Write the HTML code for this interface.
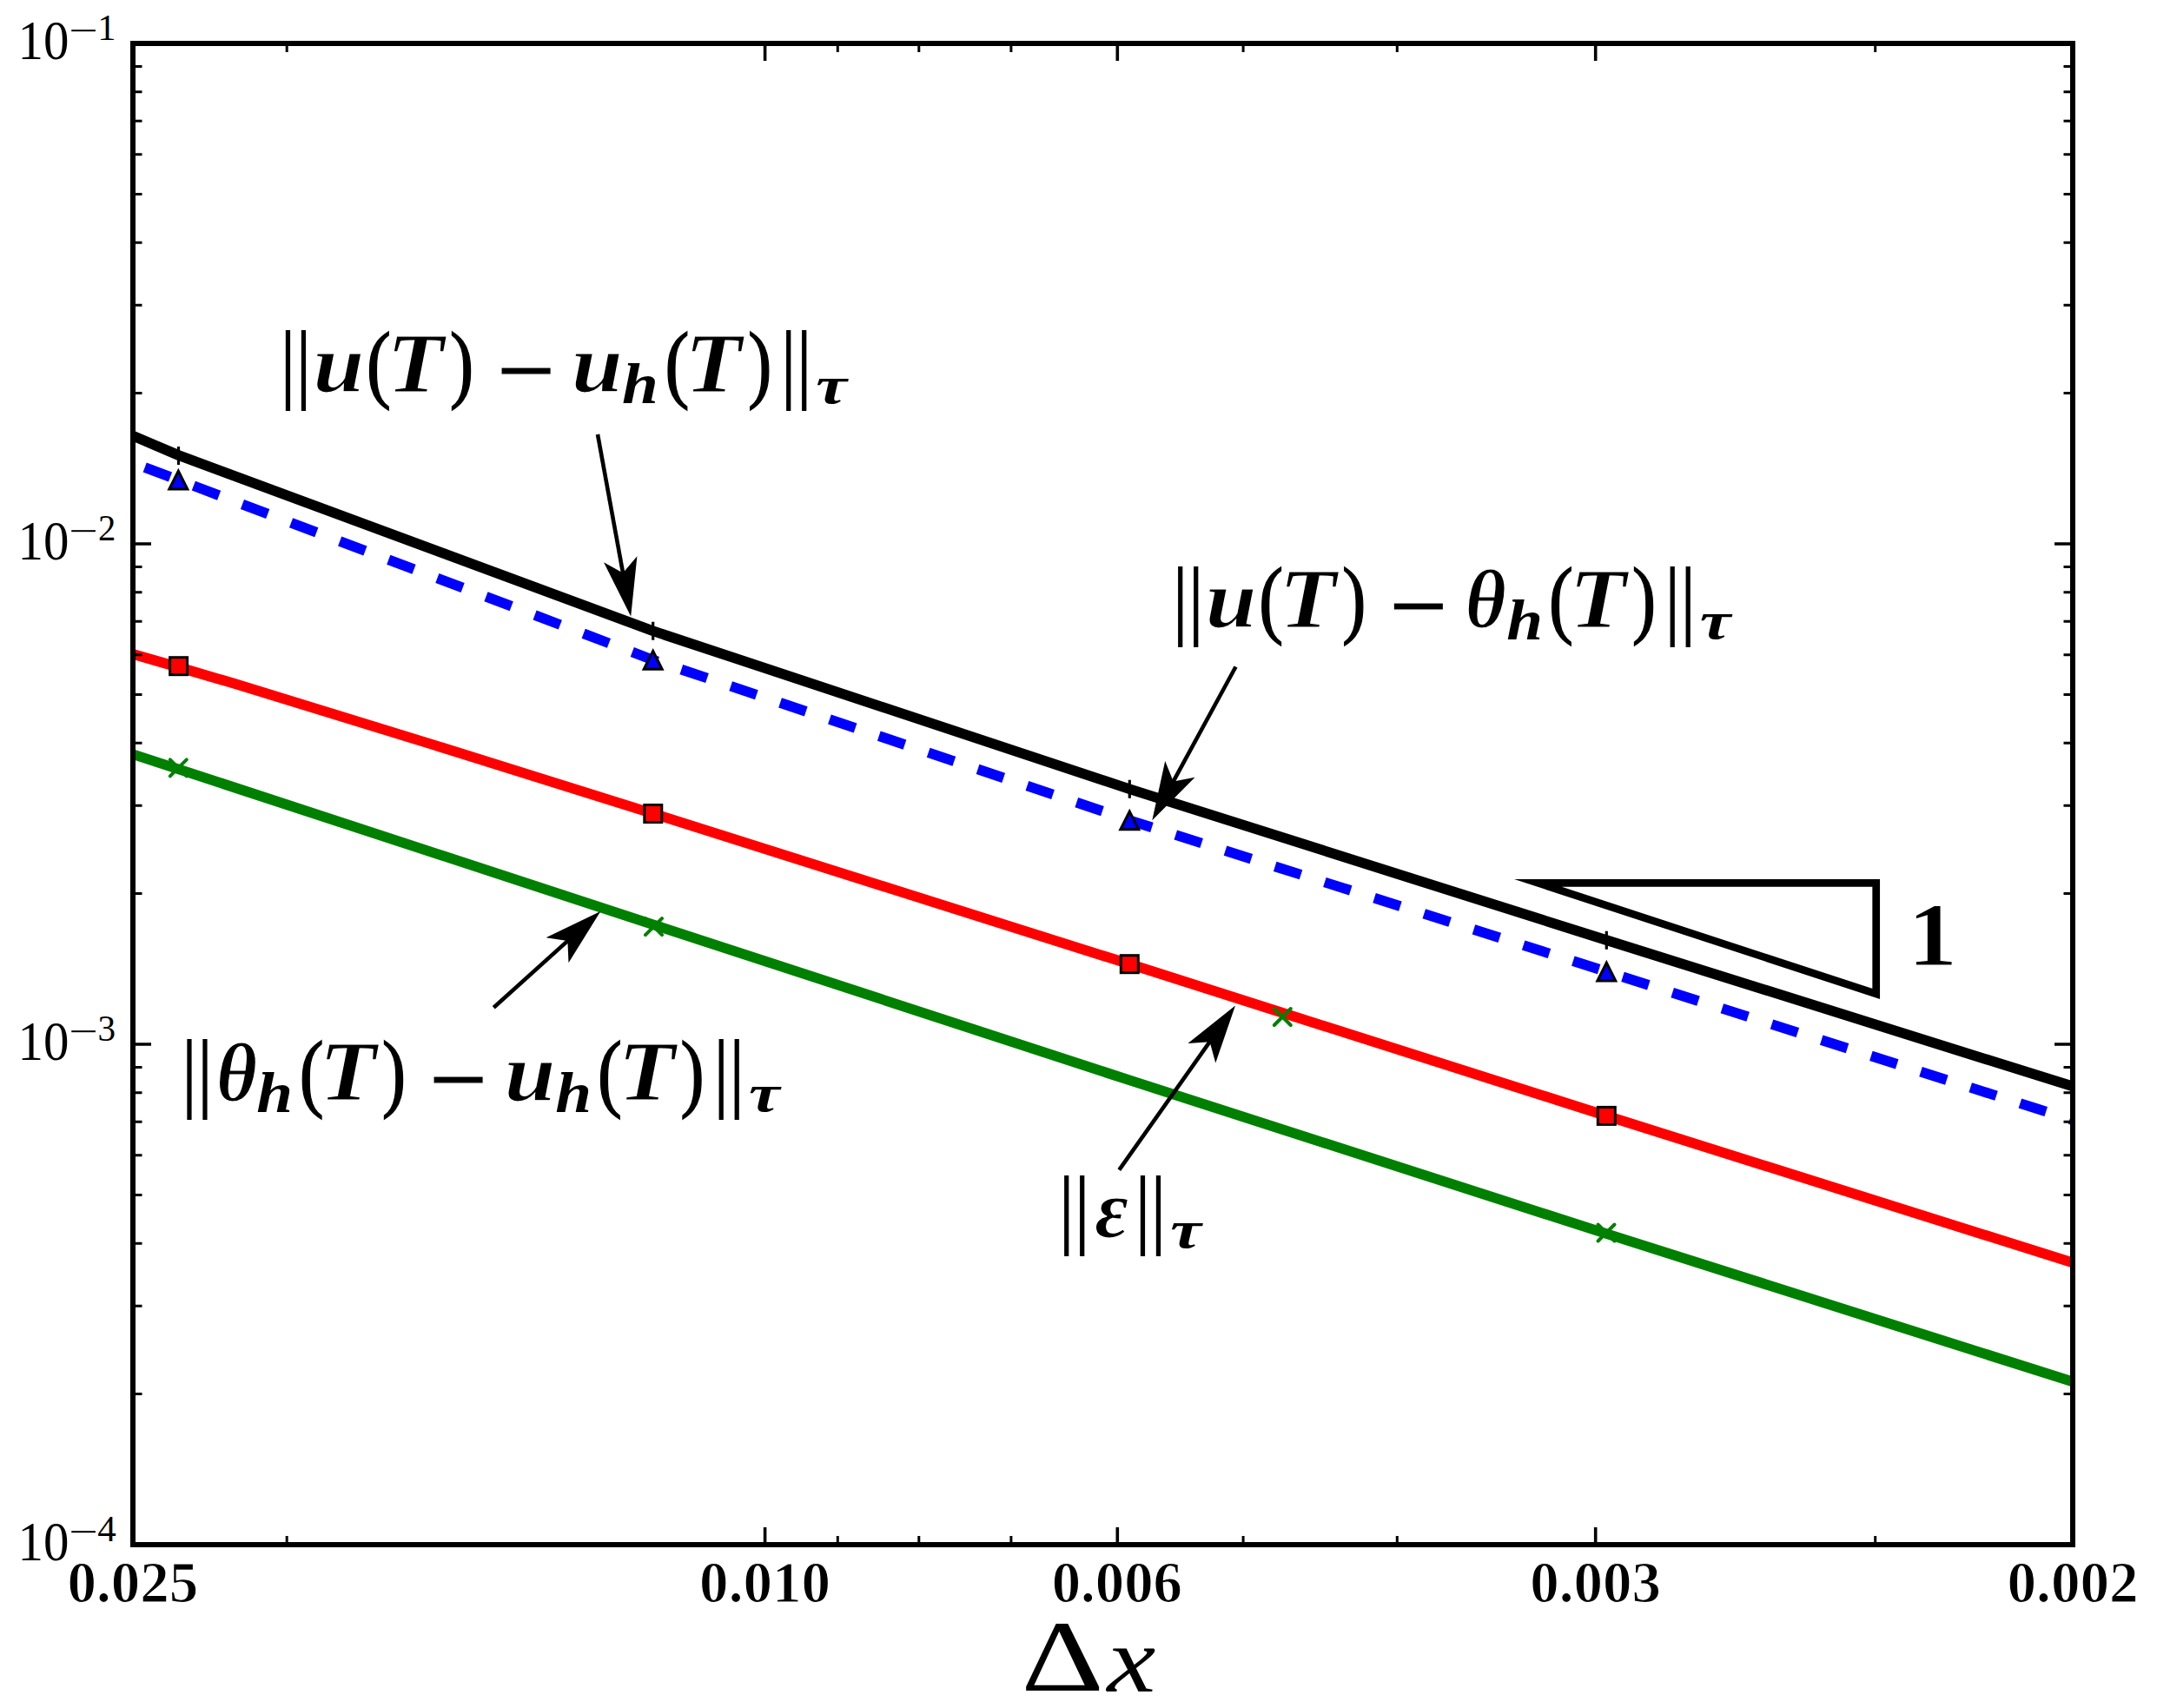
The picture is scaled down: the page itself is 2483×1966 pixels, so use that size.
<!DOCTYPE html>
<html lang="en"><head><meta charset="utf-8"><title>Convergence plot</title>
<style>html,body{margin:0;padding:0;background:#fff;}body{width:2483px;height:1966px;overflow:hidden;}svg{display:block;}text{font-family:"Liberation Serif","DejaVu Serif",serif;fill:#000;}.b{font-weight:bold;stroke:#fff;stroke-width:1.2px;}.bi{font-weight:bold;font-style:italic;stroke:#fff;stroke-width:1.2px;}.bs{font-weight:bold;font-style:italic;}.i{font-style:italic;}.rs{stroke:#000;stroke-width:1.4px;}.dj{font-family:"DejaVu Sans Light","DejaVu Sans","Liberation Sans",sans-serif;font-weight:normal;font-style:normal;}</style></head><body>
<svg width="2483" height="1966" viewBox="0 0 2483 1966">
<rect x="0" y="0" width="2483" height="1966" fill="#fff"/>
<defs><clipPath id="ax"><rect x="153" y="50" width="2233" height="1728"/></clipPath></defs>
<g clip-path="url(#ax)" fill="none" stroke-linejoin="round">
<polyline points="153.0,501.6 205.5,524.0 751.7,726.3 1300.3,908.2 1849.3,1082.2 2386.0,1250.5" stroke="#000" stroke-width="11.7"/>
<polyline points="166.7,538.0 205.3,552.5 751.7,759.6 1300.3,944.2 1849.3,1118.4 2386.0,1289.3" stroke="#00f" stroke-width="11.7" stroke-dasharray="31.3 28.7"/>
<polyline points="153.0,753.0 205.6,768.0 270.0,786.9 499.5,857.5 751.8,936.5 1300.3,1109.7 1849.3,1284.4 2386.0,1453.4" stroke="#f00" stroke-width="11.7"/>
<polyline points="153.0,868.2 752.5,1064.5 1300.0,1243.3 1849.0,1420.0 2386.0,1590.5" stroke="#008000" stroke-width="11.7"/>
</g>
<g stroke="#000" stroke-width="3.2">
<path d="M205.5 513.9V534.9M195.0 524.4H216.0"/>
<path d="M751.7 715.8V736.8M741.2 726.3H762.2"/>
<path d="M1300.3 897.7V918.7M1289.8 908.2H1310.8"/>
<path d="M1849.3 1071.7V1092.7M1838.8 1082.2H1859.8"/>
</g>
<g stroke="#000" stroke-width="3" fill="#00f" stroke-linejoin="miter">
<path d="M205.3 542.2L194.8 563.0L215.8 563.0Z"/>
<path d="M751.7 749.4L741.2 770.2L762.2 770.2Z"/>
<path d="M1300.3 934.0L1289.8 954.8L1310.8 954.8Z"/>
<path d="M1849.3 1108.2L1838.8 1129.0L1859.8 1129.0Z"/>
</g>
<g stroke="#000" stroke-width="3" fill="#f00">
<rect x="195.6" y="756.7" width="20" height="20"/>
<rect x="741.8" y="926.5" width="20" height="20"/>
<rect x="1290.3" y="1099.7" width="20" height="20"/>
<rect x="1839.3" y="1274.4" width="20" height="20"/>
</g>
<g stroke="#008000" stroke-width="4" stroke-linecap="round">
<path d="M195.8 874.3L214.8 893.3M195.8 893.3L214.8 874.3"/>
<path d="M743.0 1057.2L762.0 1076.2M743.0 1076.2L762.0 1057.2"/>
<path d="M1466.8 1161.0L1485.8 1180.0M1466.8 1180.0L1485.8 1161.0"/>
<path d="M1839.5 1409.5L1858.5 1428.5M1839.5 1428.5L1858.5 1409.5"/>
</g>
<g stroke="#000" fill="none">
<path stroke-width="3.6" d="M880.6 1778.0v-20M880.6 50.0v20M1286.3 1778.0v-20M1286.3 50.0v20M1836.7 1778.0v-20M1836.7 50.0v20M153.0 626.0h21M2386.0 626.0h-21M153.0 1202.0h21M2386.0 1202.0h-21"/>
<path stroke-width="3" d="M330.2 1778.0v-10M330.2 50.0v10M964.3 1778.0v-10M964.3 50.0v10M1057.8 1778.0v-10M1057.8 50.0v10M1163.9 1778.0v-10M1163.9 50.0v10M1431.1 1778.0v-10M1431.1 50.0v10M1608.3 1778.0v-10M1608.3 50.0v10M2158.7 1778.0v-10M2158.7 50.0v10M153.0 452.6h10.5M2386.0 452.6h-10.5M153.0 351.2h10.5M2386.0 351.2h-10.5M153.0 279.2h10.5M2386.0 279.2h-10.5M153.0 223.4h10.5M2386.0 223.4h-10.5M153.0 177.8h10.5M2386.0 177.8h-10.5M153.0 139.2h10.5M2386.0 139.2h-10.5M153.0 105.8h10.5M2386.0 105.8h-10.5M153.0 76.4h10.5M2386.0 76.4h-10.5M153.0 1028.6h10.5M2386.0 1028.6h-10.5M153.0 927.2h10.5M2386.0 927.2h-10.5M153.0 855.2h10.5M2386.0 855.2h-10.5M153.0 799.4h10.5M2386.0 799.4h-10.5M153.0 753.8h10.5M2386.0 753.8h-10.5M153.0 715.2h10.5M2386.0 715.2h-10.5M153.0 681.8h10.5M2386.0 681.8h-10.5M153.0 652.4h10.5M2386.0 652.4h-10.5M153.0 1604.6h10.5M2386.0 1604.6h-10.5M153.0 1503.2h10.5M2386.0 1503.2h-10.5M153.0 1431.2h10.5M2386.0 1431.2h-10.5M153.0 1375.4h10.5M2386.0 1375.4h-10.5M153.0 1329.8h10.5M2386.0 1329.8h-10.5M153.0 1291.2h10.5M2386.0 1291.2h-10.5M153.0 1257.8h10.5M2386.0 1257.8h-10.5M153.0 1228.4h10.5M2386.0 1228.4h-10.5"/>
<rect x="153" y="50" width="2233" height="1728" stroke-width="6"/>
</g>
<path d="M1770.3 1016.3H2159.7V1144Z" fill="none" stroke="#000" stroke-width="8.7" stroke-linejoin="miter" stroke-miterlimit="20"/>
<path d="M688.0 500.0L717.8 663.4" stroke="#000" stroke-width="4.6" fill="none"/>
<path d="M726.2 709.6L695.0 647.2L717.1 659.4L733.4 640.2Z" fill="#000"/>
<path d="M1422.5 767.5L1348.8 902.9" stroke="#000" stroke-width="4.6" fill="none"/>
<path d="M1326.3 944.2L1341.2 876.0L1350.7 899.4L1375.5 894.7Z" fill="#000"/>
<path d="M568.3 1159.7L656.4 1080.4" stroke="#000" stroke-width="4.6" fill="none"/>
<path d="M691.3 1049.0L654.5 1108.3L653.4 1083.1L628.5 1079.3Z" fill="#000"/>
<path d="M1288.3 1346.7L1394.9 1195.9" stroke="#000" stroke-width="4.6" fill="none"/>
<path d="M1422.0 1157.5L1399.3 1223.5L1392.6 1199.2L1367.4 1201.0Z" fill="#000"/>
<text><tspan class="dj" x="312.5" y="451.3" font-size="92.2" textLength="55.8" lengthAdjust="spacingAndGlyphs">‖</tspan><tspan class="bi" x="360.5" y="450.8" font-size="94.5" textLength="58.7" lengthAdjust="spacingAndGlyphs">u</tspan><tspan class="rs" x="421.7" y="451.0" font-size="100.1" textLength="28.3" lengthAdjust="spacingAndGlyphs">(</tspan><tspan class="bi" x="445.3" y="450.6" font-size="96.5" textLength="65.5" lengthAdjust="spacingAndGlyphs">T</tspan><tspan class="rs" x="517.7" y="451.0" font-size="100.1" textLength="27.5" lengthAdjust="spacingAndGlyphs">)</tspan><tspan class="b" x="570.4" y="465.8" font-size="117.4" textLength="70.4" lengthAdjust="spacingAndGlyphs">−</tspan><tspan class="bi" x="658.0" y="450.8" font-size="94.5" textLength="58.7" lengthAdjust="spacingAndGlyphs">u</tspan><tspan class="bs" x="716.0" y="464.2" font-size="65.4" textLength="41.8" lengthAdjust="spacingAndGlyphs">h</tspan><tspan class="rs" x="765.3" y="451.0" font-size="100.1" textLength="28.3" lengthAdjust="spacingAndGlyphs">(</tspan><tspan class="bi" x="788.3" y="450.6" font-size="96.5" textLength="65.5" lengthAdjust="spacingAndGlyphs">T</tspan><tspan class="rs" x="861.0" y="451.0" font-size="100.1" textLength="27.5" lengthAdjust="spacingAndGlyphs">)</tspan><tspan class="dj" x="888.7" y="451.3" font-size="92.2" textLength="55.8" lengthAdjust="spacingAndGlyphs">‖</tspan><tspan class="bs" x="939.2" y="463.6" font-size="62.3" textLength="35.6" lengthAdjust="spacingAndGlyphs">τ</tspan></text>
<text><tspan class="dj" x="1339.8" y="722.7" font-size="92.2" textLength="55.8" lengthAdjust="spacingAndGlyphs">‖</tspan><tspan class="bi" x="1387.8" y="722.2" font-size="94.5" textLength="58.7" lengthAdjust="spacingAndGlyphs">u</tspan><tspan class="rs" x="1449.0" y="722.4" font-size="100.1" textLength="28.3" lengthAdjust="spacingAndGlyphs">(</tspan><tspan class="bi" x="1472.6" y="722.0" font-size="96.5" textLength="65.5" lengthAdjust="spacingAndGlyphs">T</tspan><tspan class="rs" x="1545.0" y="722.4" font-size="100.1" textLength="27.5" lengthAdjust="spacingAndGlyphs">)</tspan><tspan class="b" x="1597.7" y="737.2" font-size="117.4" textLength="70.4" lengthAdjust="spacingAndGlyphs">−</tspan><tspan class="bi" x="1686.8" y="722.3" font-size="94.4" textLength="47.0" lengthAdjust="spacingAndGlyphs">θ</tspan><tspan class="bs" x="1734.3" y="735.6" font-size="65.4" textLength="41.8" lengthAdjust="spacingAndGlyphs">h</tspan><tspan class="rs" x="1782.8" y="722.4" font-size="100.1" textLength="28.3" lengthAdjust="spacingAndGlyphs">(</tspan><tspan class="bi" x="1806.6" y="722.0" font-size="96.5" textLength="65.5" lengthAdjust="spacingAndGlyphs">T</tspan><tspan class="rs" x="1878.8" y="722.4" font-size="100.1" textLength="27.5" lengthAdjust="spacingAndGlyphs">)</tspan><tspan class="dj" x="1906.2" y="722.7" font-size="92.2" textLength="55.8" lengthAdjust="spacingAndGlyphs">‖</tspan><tspan class="bs" x="1956.7" y="735.0" font-size="62.3" textLength="35.6" lengthAdjust="spacingAndGlyphs">τ</tspan></text>
<text><tspan class="dj" x="199.0" y="1267.1" font-size="92.2" textLength="55.8" lengthAdjust="spacingAndGlyphs">‖</tspan><tspan class="bi" x="249.0" y="1266.7" font-size="94.4" textLength="47.0" lengthAdjust="spacingAndGlyphs">θ</tspan><tspan class="bs" x="295.2" y="1280.0" font-size="65.4" textLength="41.8" lengthAdjust="spacingAndGlyphs">h</tspan><tspan class="rs" x="344.5" y="1266.8" font-size="100.1" textLength="28.3" lengthAdjust="spacingAndGlyphs">(</tspan><tspan class="bi" x="367.4" y="1266.4" font-size="96.5" textLength="65.5" lengthAdjust="spacingAndGlyphs">T</tspan><tspan class="rs" x="439.7" y="1266.8" font-size="100.1" textLength="27.5" lengthAdjust="spacingAndGlyphs">)</tspan><tspan class="b" x="492.6" y="1281.6" font-size="117.4" textLength="70.4" lengthAdjust="spacingAndGlyphs">−</tspan><tspan class="bi" x="580.8" y="1266.6" font-size="94.5" textLength="58.7" lengthAdjust="spacingAndGlyphs">u</tspan><tspan class="bs" x="639.3" y="1280.0" font-size="65.4" textLength="41.8" lengthAdjust="spacingAndGlyphs">h</tspan><tspan class="rs" x="687.8" y="1266.8" font-size="100.1" textLength="28.3" lengthAdjust="spacingAndGlyphs">(</tspan><tspan class="bi" x="711.6" y="1266.4" font-size="96.5" textLength="65.5" lengthAdjust="spacingAndGlyphs">T</tspan><tspan class="rs" x="783.3" y="1266.8" font-size="100.1" textLength="27.5" lengthAdjust="spacingAndGlyphs">)</tspan><tspan class="dj" x="811.2" y="1267.1" font-size="92.2" textLength="55.8" lengthAdjust="spacingAndGlyphs">‖</tspan><tspan class="bs" x="862.1" y="1279.4" font-size="62.3" textLength="35.6" lengthAdjust="spacingAndGlyphs">τ</tspan></text>
<text><tspan class="dj" x="1208.7" y="1423.7" font-size="92.2" textLength="55.8" lengthAdjust="spacingAndGlyphs">‖</tspan><tspan class="bi" x="1260.3" y="1423.7" font-size="94.4" textLength="38.8" lengthAdjust="spacingAndGlyphs">ε</tspan><tspan class="dj" x="1296.5" y="1423.7" font-size="92.2" textLength="55.8" lengthAdjust="spacingAndGlyphs">‖</tspan><tspan class="bs" x="1347.2" y="1436.0" font-size="62.3" textLength="35.6" lengthAdjust="spacingAndGlyphs">τ</tspan></text>
<text><tspan class="b" x="2195.9" y="1110.8" font-size="103.0" textLength="57.2" lengthAdjust="spacingAndGlyphs">1</tspan></text>
<text><tspan x="20.6" y="68.4" font-size="64.2" textLength="58.9" lengthAdjust="spacingAndGlyphs">10</tspan><tspan x="79.3" y="48.6" font-size="41.0" textLength="33.6" lengthAdjust="spacingAndGlyphs">−</tspan><tspan x="112.3" y="45.8" font-size="41.8" textLength="21.3" lengthAdjust="spacingAndGlyphs">1</tspan></text>
<text><tspan x="20.6" y="644.4" font-size="64.2" textLength="58.9" lengthAdjust="spacingAndGlyphs">10</tspan><tspan x="79.3" y="624.6" font-size="41.0" textLength="33.6" lengthAdjust="spacingAndGlyphs">−</tspan><tspan x="113.0" y="621.8" font-size="41.8" textLength="20.3" lengthAdjust="spacingAndGlyphs">2</tspan></text>
<text><tspan x="20.6" y="1220.4" font-size="64.2" textLength="58.9" lengthAdjust="spacingAndGlyphs">10</tspan><tspan x="79.3" y="1200.6" font-size="41.0" textLength="33.6" lengthAdjust="spacingAndGlyphs">−</tspan><tspan x="112.5" y="1197.8" font-size="41.8" textLength="20.6" lengthAdjust="spacingAndGlyphs">3</tspan></text>
<text><tspan x="20.6" y="1796.4" font-size="64.2" textLength="58.9" lengthAdjust="spacingAndGlyphs">10</tspan><tspan x="79.3" y="1776.6" font-size="41.0" textLength="33.6" lengthAdjust="spacingAndGlyphs">−</tspan><tspan x="112.2" y="1773.8" font-size="41.8" textLength="21.5" lengthAdjust="spacingAndGlyphs">4</tspan></text>
<text><tspan class="b" x="77.5" y="1844.3" font-size="67.6" textLength="150.8" lengthAdjust="spacingAndGlyphs">0.025</tspan></text>
<text><tspan class="b" x="805.1" y="1844.3" font-size="67.6" textLength="150.9" lengthAdjust="spacingAndGlyphs">0.010</tspan></text>
<text><tspan class="b" x="1210.7" y="1844.3" font-size="67.6" textLength="150.3" lengthAdjust="spacingAndGlyphs">0.006</tspan></text>
<text><tspan class="b" x="1761.3" y="1844.3" font-size="67.6" textLength="150.6" lengthAdjust="spacingAndGlyphs">0.003</tspan></text>
<text><tspan class="b" x="2310.5" y="1844.3" font-size="67.6" textLength="151.2" lengthAdjust="spacingAndGlyphs">0.002</tspan></text>
<text><tspan x="1175.4" y="1945.8" font-size="116.5" textLength="95.2" lengthAdjust="spacingAndGlyphs">Δ</tspan><tspan class="i" x="1274.5" y="1947.3" font-size="108.1" textLength="55.8" lengthAdjust="spacingAndGlyphs">x</tspan></text>
</svg></body></html>
